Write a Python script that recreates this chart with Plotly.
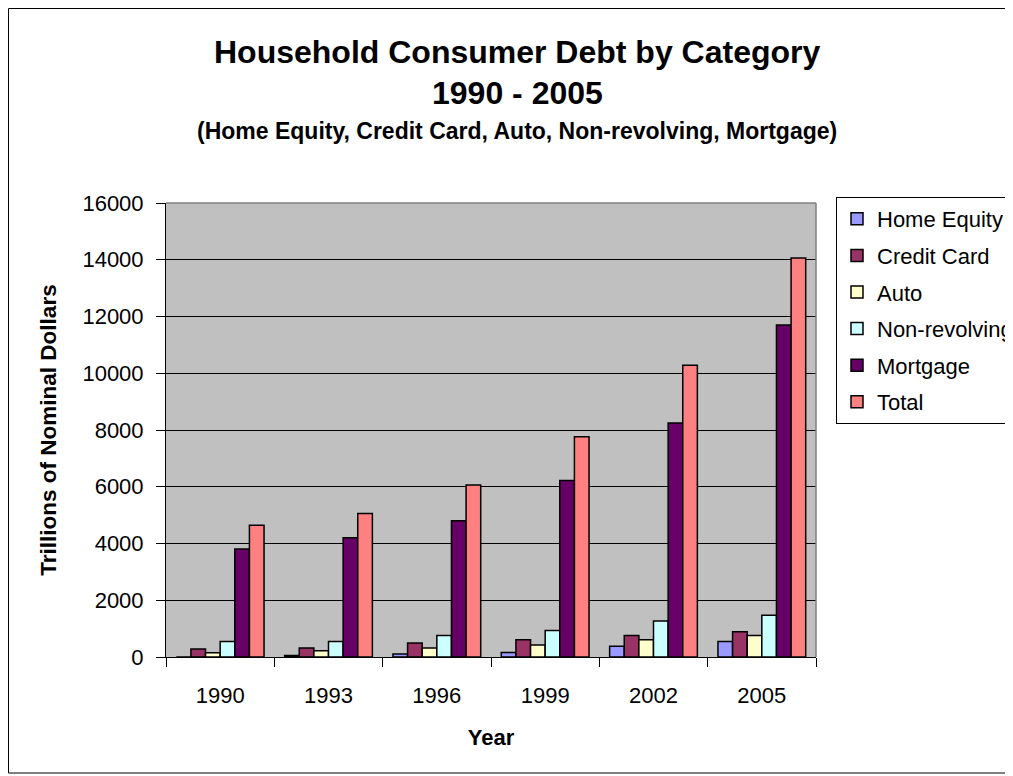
import plotly.graph_objects as go

years = ["1990", "1993", "1996", "1999", "2002", "2005"]
home_equity = [0, 55, 105, 160, 375, 550]
credit_card = [280, 315, 490, 610, 760, 890]
auto = [150, 220, 315, 420, 610, 760]
non_revolving = [550, 550, 760, 935, 1265, 1475]
mortgage = [3810, 4200, 4800, 6220, 8250, 11700]
total = [4640, 5060, 6060, 7760, 10280, 14060]

series = [
    ("Home Equity", home_equity, "#9999FF"),
    ("Credit Card", credit_card, "#993366"),
    ("Auto", auto, "#FFFFCC"),
    ("Non-revolving", non_revolving, "#CCFFFF"),
    ("Mortgage", mortgage, "#660066"),
    ("Total", total, "#FF8080"),
]

W, H = 1013, 776
# page coordinates (screen minus 8px body margin)
L, R, T, B = 158, 808, 195, 649

fig = go.Figure()
for name, vals, col in series:
    fig.add_trace(go.Bar(
        x=years, y=vals, name=name, legendgroup=name,
        marker=dict(color=col, line=dict(color="black", width=1.5)),
    ))

FONT = "Liberation Sans, Arial, sans-serif"

def px_x(px):
    return (px - L) / (R - L)

def px_y(py):
    return (B - py) / (B - T)

fig.update_layout(
    width=W, height=H,
    margin=dict(l=L, r=W - R, t=T, b=H - B, autoexpand=False),
    paper_bgcolor="white",
    plot_bgcolor="#C0C0C0",
    barmode="group",
    bargap=0.19,
    bargroupgap=0,
    font=dict(family=FONT, color="black", size=22),
    showlegend=True,
    legend=dict(
        xref="container", yref="container",
        x=828 / W, y=1 - 189 / H, xanchor="left", yanchor="top",
        bordercolor="black", borderwidth=1, bgcolor="white",
        font=dict(family=FONT, size=22, color="black"),
        tracegroupgap=5,
        traceorder="grouped",
        itemwidth=30,
    ),
    xaxis=dict(
        showline=True, linecolor="black", linewidth=1,
        ticks="outside", tickson="boundaries", ticklen=9, tickcolor="black",
        tickfont=dict(size=22), showgrid=False, ticklabelstandoff=19,
        title=dict(text="<b>Year</b>", font=dict(size=22), standoff=22),
    ),
    yaxis=dict(
        range=[0, 16000], tickvals=list(range(0, 16001, 2000)), tickformat="d",
        showline=True, linecolor="black", linewidth=1,
        ticks="outside", ticklen=9, tickcolor="black", ticklabelstandoff=8,
        tickfont=dict(size=22),
        showgrid=True, gridcolor="black", gridwidth=1,
        zeroline=False,
        title=dict(text="<b>Trillions of Nominal Dollars</b>", font=dict(size=22.5), standoff=19),
    ),
    annotations=[
        dict(text="<b>Household Consumer Debt by Category</b>", xref="paper", yref="paper",
             x=px_x(509), y=px_y(44), xanchor="center", yanchor="middle", showarrow=False,
             font=dict(size=32, family=FONT)),
        dict(text="<b>1990 - 2005</b>", xref="paper", yref="paper",
             x=px_x(509), y=px_y(85), xanchor="center", yanchor="middle", showarrow=False,
             font=dict(size=32, family=FONT)),
        dict(text="<b>(Home Equity, Credit Card, Auto, Non-revolving, Mortgage)</b>", xref="paper", yref="paper",
             x=px_x(509), y=px_y(123), xanchor="center", yanchor="middle", showarrow=False,
             font=dict(size=23, family=FONT)),
    ],
    shapes=[
        dict(type="rect", xref="paper", yref="paper",
             x0=px_x(0.5), x1=px_x(1020), y0=px_y(0.5), y1=px_y(765),
             line=dict(color="black", width=1), fillcolor="rgba(0,0,0,0)", layer="below"),
        dict(type="line", xref="paper", yref="paper", x0=0, x1=1, y0=1, y1=1,
             line=dict(color="#808080", width=1.5)),
        dict(type="line", xref="paper", yref="paper", x0=1, x1=1, y0=0, y1=1,
             line=dict(color="#808080", width=1.5)),
    ],
)

fig.write_html("out.html")
